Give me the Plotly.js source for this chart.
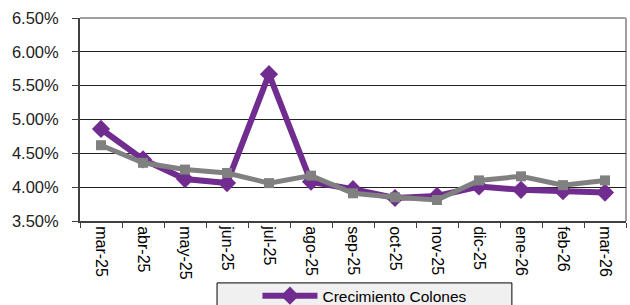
<!DOCTYPE html>
<html>
<head>
<meta charset="utf-8">
<script src="https://cdn.plot.ly/plotly-3.0.1.min.js"></script>
<style>html,body{margin:0;padding:0;background:#fff;}#chart{width:630px;height:305px;}</style>
</head>
<body>
<div id="chart"></div>
<script>
var categories = ["mar-25","abr-25","may-25","jun-25","jul-25","ago-25","sep-25","oct-25","nov-25","dic-25","ene-26","feb-26","mar-26"];
var colones = [4.86, 4.41, 4.12, 4.06, 5.67, 4.08, 3.97, 3.84, 3.87, 4.01, 3.96, 3.94, 3.92];
var segundaSerie = [4.62, 4.36, 4.26, 4.21, 4.06, 4.17, 3.91, 3.85, 3.81, 4.10, 4.16, 4.03, 4.10];
var yTicks = [3.5, 4.0, 4.5, 5.0, 5.5, 6.0, 6.5];
var yTickLabels = ["3.50%","4.00%","4.50%","5.00%","5.50%","6.00%","6.50%"];

var traces = [
  {x: categories, y: colones, name: "Crecimiento Colones", type: "scatter", mode: "lines+markers",
   line: {color: "#702C8E", width: 6}, marker: {symbol: "diamond", size: 14, color: "#702C8E"}},
  {x: categories, y: segundaSerie, name: "Crecimiento Dólares", type: "scatter", mode: "lines+markers", showlegend: false,
   line: {color: "#808080", width: 5}, marker: {symbol: "square", size: 10, color: "#808080"}}
];

var layout = {
  width: 630, height: 305,
  margin: {l: 80, r: 4, t: 18, b: 84, autoexpand: false},
  paper_bgcolor: "#fff", plot_bgcolor: "#fff",
  font: {family: "Liberation Sans, Arial, sans-serif", color: "#000"},
  showlegend: true,
  legend: {orientation: "v", x: 0.325, xanchor: "left", y: -0.286, yanchor: "top", itemwidth: 55,
           bgcolor: "rgba(0,0,0,0)", borderwidth: 0, font: {size: 15.5, color: "#000"}},
  xaxis: {type: "category", range: [-0.5, categories.length - 0.5], tickson: "boundaries", ticks: "outside", ticklen: 5, tickcolor: "#404040",
          tickangle: 90, tickfont: {size: 16, color: "#000"}, showgrid: false, automargin: false,
          showline: true, linecolor: "#404040", linewidth: 2, fixedrange: true},
  yaxis: {range: [3.5, 6.5], tickvals: yTicks, ticktext: yTickLabels, ticks: "outside", ticklen: 6,
          tickcolor: "#404040", tickfont: {size: 16.5, color: "#222"}, ticklabelstandoff: 10, automargin: false,
          showgrid: true, gridcolor: "#222", gridwidth: 1, zeroline: false,
          showline: true, linecolor: "#404040", linewidth: 2, fixedrange: true},
  shapes: [
    {type: "line", xref: "paper", yref: "paper", x0: 0, x1: 1, y0: 1, y1: 1, line: {color: "#a0a0a0", width: 2}, layer: "below"},
    {type: "line", xref: "paper", yref: "paper", x0: 1, x1: 1, y0: 0, y1: 1, line: {color: "#a0a0a0", width: 2}, layer: "below"},
    {type: "rect", xref: "paper", yref: "paper", x0: 0.251, x1: 0.791, y0: -0.305, y1: -0.45,
     line: {color: "#000", width: 1}, fillcolor: "#f0f0f0", layer: "below"}
  ]
};

Plotly.newPlot("chart", traces, layout, {displayModeBar: false, staticPlot: true});
</script>
</body>
</html>
